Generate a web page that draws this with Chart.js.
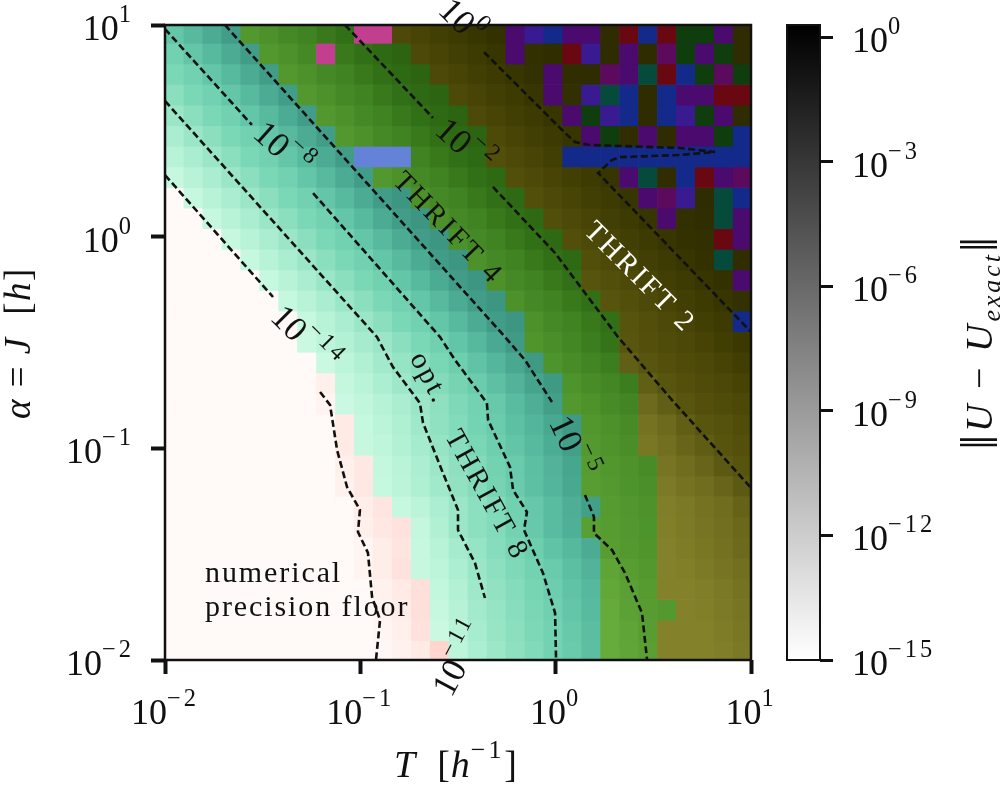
<!DOCTYPE html>
<html>
<head>
<meta charset="utf-8">
<title>THRIFT error</title>
<script src="https://cdn.jsdelivr.net/npm/chart.js@4"></script>
<style>
    html, body { margin: 0; background: #fff; }
    canvas { position: absolute; top: 0; }
</style>
</head>
<body>
<canvas id="mapChart" width="1000" height="787" style="left:0"></canvas>
<canvas id="barChart" width="240" height="787" style="left:760px"></canvas>
<script>
// Axis ticks
const xTickValues = [0.01, 0.1, 1, 10];
const xTickExps = ['−2', '−1', '0', '1'];
const yTickValues = [0.01, 0.1, 1, 10];
const yTickExps = ['−2', '−1', '0', '1'];
const barTickValues = [1, 1e-3, 1e-6, 1e-9, 1e-12, 1e-15];
const barTickExps = ['0', '−3', '−6', '−9', '−12', '−15'];

// Winning method per cell, top row first
// F floor, 8/4/2 THRIFT order, M C stray cells, the rest is the noisy corner
const methodRows = [
    '8888444444MM222222vibvv2rbrggv2',
    '88888444M444422222v22ri2v2mgvg2',
    '88888844444444222222v22mvtrbgmg',
    '888888844444444' + '22222v2itb2bvvrr',
    '88888888444444442222' + '2vgib2bigv2',
    '888888888444444442222' + '2vg2v2vvgb',
    '8888888888CCC44442222bbbbbbbbbb',
    '88888888888444444422222' + '2vt2brvm',
    'F888888888888444444222222vmi2tb',
    'FF888888888888444444222222v22tv',
    'FFF888888888888444444222222' + '22rv',
    'FFFF888888888888444444222222' + '2t2',
    'FFFFF88888888888844444222222' + '22v',
    'FFFFFF88888888888844444222222' + '22',
    'FFFFFFF88888888888844444222222b',
    'FFFFFFF888888888888444442222222',
    'FFFFFFFF8888888888884444222' + '2222',
    'FFFFFFFFF888888888888444422' + '2222',
    'FFFFFFFFF888888888888444422' + '2222',
    'FFFFFFFFFF888888888888444222222',
    'FFFFFFFFFF888888888888444222222',
    'FFFFFFFFFFF88888888888444422222',
    'FFFFFFFFFFF88888888888444422222',
    'FFFFFFFFFFFF88888888888444' + '22222',
    'FFFFFFFFFFFFF888888888444422222',
    'FFFFFFFFFFFFF8888888888444' + '22222',
    'FFFFFFFFFFFFF8888888888444' + '22222',
    'FFFFFFFFFFFFFF888888888444' + '22222',
    'FFFFFFFFFFFFFF8888888884444' + '2222',
    'FFFFFFFFFFFFFF888888888444' + '22222',
    'FFFFFFFFFFFFFFF88888888444' + '22222'
];

// log10 of the error per cell, top row first
const errorRows = [
    [-7.5,-6.6,-5.7,-4.9,-4.5,-4,-3.5,-3.1,-2.6,-2.2,-1.8,-1.5,-1.2,-.9,-.6,-.3,0,.2,.3,.4,.5,.5,.5,.5,.5,.5,.5,.5,.5,.5,.5],
    [-8.4,-7.5,-6.6,-5.7,-4.9,-4.5,-4,-3.5,-3.1,-2.6,-2.2,-1.8,-1.5,-1.2,-.9,-.6,-.3,0,.2,.3,.4,.5,.5,.5,.5,.5,.5,.5,.5,.5,.5],
    [-9.2,-8.4,-7.5,-6.6,-5.7,-4.9,-4.5,-4,-3.5,-3.1,-2.6,-2.2,-1.8,-1.5,-1.2,-.9,-.6,-.3,0,.2,.3,.4,.5,.5,.5,.5,.5,.5,.5,.5,.5],
    [-10.1,-9.2,-8.4,-7.5,-6.6,-5.7,-4.9,-4.5,-4,-3.5,-3.1,-2.6,-2.2,-1.8,-1.5,-1.2,-.9,-.6,-.3,0,.2,.3,.4,.5,.5,.5,.5,.5,.5,.5,.5],
    [-11,-10.1,-9.2,-8.4,-7.5,-6.6,-5.7,-4.9,-4.5,-4,-3.5,-3.1,-2.6,-2.2,-1.8,-1.5,-1.2,-.9,-.6,-.3,0,.2,.3,.4,.5,.5,.5,.5,.5,.5,.5],
    [-11.9,-11,-10.1,-9.2,-8.4,-7.5,-6.6,-5.7,-4.9,-4.5,-4,-3.5,-3.1,-2.6,-2.2,-1.8,-1.5,-1.2,-.9,-.6,-.3,0,.2,.3,.4,.5,.5,.5,.5,.5,.5],
    [-12.7,-11.9,-11,-10.1,-9.2,-8.4,-7.5,-6.6,-5.7,-4.9,-4.5,-4,-3.5,-3.1,-2.6,-2.2,-1.8,-1.5,-1.2,-.9,-.6,-.3,0,.2,.3,.4,.5,.5,.5,.5,.5],
    [-13.5,-12.7,-11.9,-11,-10.1,-9.2,-8.4,-7.5,-6.6,-5.7,-4.9,-4.5,-4,-3.5,-3.1,-2.6,-2.2,-1.8,-1.5,-1.2,-.9,-.6,-.3,0,.2,.3,.4,.5,.5,.5,.5],
    [-15,-13.5,-12.7,-11.9,-11,-10.1,-9.2,-8.4,-7.5,-6.6,-5.7,-4.9,-4.5,-4,-3.5,-3.1,-2.6,-2.2,-1.8,-1.5,-1.2,-.9,-.6,-.3,0,.2,.3,.4,.5,.5,.5],
    [-15,-15,-13.5,-12.7,-11.9,-11,-10.1,-9.2,-8.4,-7.5,-6.6,-5.7,-4.9,-4.5,-4,-3.5,-3.1,-2.6,-2.2,-1.8,-1.5,-1.2,-.9,-.6,-.3,0,.2,.3,.4,.5,.5],
    [-15,-15,-15,-13.5,-12.7,-11.9,-11,-10.1,-9.2,-8.4,-7.5,-6.6,-5.7,-4.9,-4.5,-4,-3.5,-3.1,-2.6,-2.2,-1.8,-1.5,-1.2,-.9,-.6,-.3,0,.2,.3,.4,.5],
    [-15,-15,-15,-15,-13.5,-12.7,-11.9,-11,-10.1,-9.2,-8.4,-7.5,-6.6,-5.7,-4.9,-4.5,-4,-3.5,-3.1,-2.6,-2.2,-1.8,-1.5,-1.2,-.9,-.6,-.3,0,.2,.3,.4],
    [-15,-15,-15,-15,-15,-13.5,-12.7,-11.9,-11,-10.1,-9.2,-8.4,-7.5,-6.6,-5.7,-4.9,-4.5,-4,-3.5,-3.1,-2.6,-2.2,-1.8,-1.5,-1.2,-.9,-.6,-.3,0,.2,.3],
    [-15,-15,-15,-15,-15,-15,-13.5,-12.7,-11.9,-11,-10.1,-9.2,-8.4,-7.5,-6.6,-5.7,-4.9,-4.5,-4,-3.5,-3.1,-2.6,-2.2,-1.8,-1.5,-1.2,-.9,-.6,-.3,0,.2],
    [-15,-15,-15,-15,-15,-15,-15,-13.5,-12.7,-11.9,-11,-10.1,-9.2,-8.4,-7.5,-6.6,-5.7,-4.9,-4.5,-4,-3.5,-3.1,-2.6,-2.2,-1.8,-1.5,-1.2,-.9,-.6,-.3,0],
    [-15,-15,-15,-15,-15,-15,-15,-13.7,-13,-12.4,-11.7,-11,-10.1,-9.2,-8.3,-7.4,-6.5,-5.6,-4.8,-4.3,-3.8,-3.3,-2.8,-2.3,-1.9,-1.6,-1.3,-1.1,-.8,-.5,-.2],
    [-15,-15,-15,-15,-15,-15,-15,-15,-13.7,-13,-12.3,-11.5,-10.7,-9.9,-9.1,-8.2,-7.3,-6.4,-5.5,-4.7,-4.2,-3.7,-3.2,-2.8,-2.3,-1.9,-1.6,-1.3,-1.1,-.8,-.5],
    [-15,-15,-15,-15,-15,-15,-15,-15,-14.5,-13.4,-12.8,-12,-11.2,-10.4,-9.6,-8.8,-7.9,-7.1,-6.2,-5.3,-4.7,-4.2,-3.7,-3.3,-2.8,-2.3,-1.9,-1.6,-1.3,-1.1,-.8],
    [-15,-15,-15,-15,-15,-15,-15,-15,-14.7,-13.8,-13.2,-12.6,-11.9,-11,-10.3,-9.4,-8.5,-7.7,-6.8,-5.9,-5,-4.5,-4.1,-3.6,-3.2,-2.8,-2.3,-1.9,-1.6,-1.3,-1.1],
    [-15,-15,-15,-15,-15,-15,-15,-15,-15,-14.3,-13.5,-12.9,-12.2,-11.3,-10.4,-9.6,-8.7,-7.9,-7.1,-6.3,-5.5,-4.8,-4.4,-4,-3.6,-3.2,-2.8,-2.3,-1.9,-1.7,-1.4],
    [-15,-15,-15,-15,-15,-15,-15,-15,-15,-14.3,-13.6,-13.1,-12.4,-11.6,-10.7,-9.9,-9.1,-8.2,-7.4,-6.6,-5.8,-5,-4.6,-4.2,-3.8,-3.4,-3,-2.6,-2.2,-1.8,-1.6],
    [-15,-15,-15,-15,-15,-15,-15,-15,-15,-14.5,-14.2,-13.4,-12.8,-12,-11.1,-10.3,-9.5,-8.6,-7.8,-7,-6.2,-5.4,-4.8,-4.4,-4.1,-3.7,-3.3,-2.9,-2.6,-2.1,-1.8],
    [-15,-15,-15,-15,-15,-15,-15,-15,-15,-14.6,-14.2,-13.5,-12.9,-12.2,-11.4,-10.5,-9.7,-8.8,-7.9,-7.1,-6.3,-5.5,-4.9,-4.6,-4.2,-3.9,-3.6,-3.2,-2.9,-2.6,-2.1],
    [-15,-15,-15,-15,-15,-15,-15,-15,-15,-15,-14.4,-14.1,-13.5,-12.9,-12,-11,-10.2,-9.5,-8.4,-7.6,-6.8,-5.9,-5,-4.7,-4.4,-4.1,-3.8,-3.5,-3.2,-2.9,-2.5],
    [-15,-15,-15,-15,-15,-15,-15,-15,-15,-15,-14.5,-14.2,-14,-13.4,-12.3,-11,-10.2,-9.6,-8.6,-7.7,-6.8,-6,-5,-4.8,-4.5,-4.2,-3.9,-3.6,-3.3,-3,-2.7],
    [-15,-15,-15,-15,-15,-15,-15,-15,-15,-15,-14.8,-14.4,-14.1,-13.5,-12.7,-11.6,-10.7,-9.8,-9,-8.2,-7.3,-6.5,-5.7,-4.9,-4.6,-4.3,-4,-3.7,-3.4,-3.1,-2.8],
    [-15,-15,-15,-15,-15,-15,-15,-15,-15,-15,-14.7,-14.4,-14,-13.6,-13,-12,-11,-10.2,-9.4,-8.5,-7.8,-7,-6.2,-5.4,-4.9,-4.5,-4.2,-3.9,-3.6,-3.3,-3],
    [-15,-15,-15,-15,-15,-15,-15,-15,-15,-15,-15,-14.6,-14.3,-13.9,-13.3,-12.4,-11.3,-10.5,-9.7,-8.9,-8.1,-7.3,-6.5,-5.7,-5.1,-4.7,-4.4,-4.1,-3.8,-3.5,-3.2],
    [-15,-15,-15,-15,-15,-15,-15,-15,-15,-15,-15,-14.7,-14.4,-13.9,-13.5,-12.6,-11.5,-10.7,-9.9,-9.1,-8.3,-7.5,-6.7,-5.9,-5.2,-4.8,-4.6,-4.2,-3.9,-3.6,-3.3],
    [-15,-15,-15,-15,-15,-15,-15,-15,-15,-15,-15,-14.8,-14.5,-14,-13.7,-12.8,-11.8,-10.9,-10.1,-9.3,-8.5,-7.7,-6.9,-6.1,-5.4,-4.9,-4.5,-4.3,-4,-3.7,-3.4],
    [-15,-15,-15,-15,-15,-15,-15,-15,-15,-15,-15,-14.9,-14.6,-14.3,-13.6,-13,-12,-11.1,-10.3,-9.5,-8.6,-7.8,-7,-6.2,-5.5,-5,-4.6,-4.4,-4.1,-3.8,-3.5]
];

// Contour lines as [log10 T, log10 alpha], one list per unbroken piece
const contourMinus14 = [
    [[-2, .291], [-1.447, -.285]],
    [[-1.206, -.734], [-1.155, -.795], [-1.119, -1.008], [-1.068, -1.183], [-1.002, -1.291], [-1.012, -1.395], [-.961, -1.494], [-.94, -1.702], [-.899, -1.811], [-.92, -2]]
];
const contourMinus11 = [
    [[-2, .641], [-.915, -.474], [-.833, -.616], [-.695, -.786], [-.679, -.88], [-.577, -1.117], [-.556, -1.164], [-.5, -1.291], [-.5, -1.386], [-.413, -1.542], [-.362, -1.707]]
];
const contourMinus8 = [
    [[-2, .981], [-1.555, .528]],
    [[-1.242, .206], [-.592, -.474], [-.515, -.583], [-.352, -.786], [-.346, -.866], [-.234, -1.088], [-.218, -1.197], [-.147, -1.301], [-.162, -1.386], [-.065, -1.589], [-.003, -1.778], [.002, -2]]
];
const contourMinus5 = [
    [[-1.693, 1], [-.259, -.474], [-.157, -.583], [-.019, -.781]],
    [[.15, -1.22], [.196, -1.324], [.196, -1.4], [.288, -1.48], [.355, -1.589], [.442, -1.778], [.468, -2]]
];
const contourMinus2 = [
    [[-1.078, 1], [-.628, .561]],
    [[-.321, .235], [-.003, -.077], [.319, -.474], [.596, -.772], [1, -1.187]]
];
const contourZero = [
    [[-.367, .872], [.048, .49], [.099, .447], [.176, .433], [.637, .419], [.816, .4], [.637, .386], [.329, .376], [.288, .362], [.217, .301], [1, -.45]]
];

// Text on the map: runs, place in [log10 T, log10 alpha], rotation in degrees
const mapLabels = [
    { runs: [{ t: '10' }, { t: '0', sup: true }], at: [-.48, 1.014], rot: 45, color: '#111' },
    { runs: [{ t: '10' }, { t: '−2', sup: true }], at: [-.464, .424], rot: 42, color: '#111' },
    { runs: [{ t: '10' }, { t: '−5', sup: true }], at: [.084, -.998], rot: 65, color: '#111' },
    { runs: [{ t: '10' }, { t: '−8', sup: true }], at: [-1.396, .409], rot: 42, color: '#111' },
    { runs: [{ t: '10' }, { t: '−11', sup: true }], at: [-.485, -1.991], rot: -62, color: '#111' },
    { runs: [{ t: '10' }, { t: '−14', sup: true }], at: [-1.283, -.488], rot: 45, color: '#111' },
    { runs: [{ t: 'THRIFT 4' }], at: [-.551, .041], rot: 46, color: '#111', size: 29 },
    { runs: [{ t: 'THRIFT 2' }], at: [.432, -.191], rot: 45, color: '#fff', size: 29 },
    { runs: [{ t: 'THRIFT 8' }], at: [-.352, -1.22], rot: 61, color: '#111', size: 29 },
    { runs: [{ t: 'opt.' }], at: [-.643, -.668], rot: 62, color: '#111', size: 29 }
];
const noteLines = [
    { text: 'numerical', at: [-1.795, -1.631] },
    { text: 'precision floor', at: [-1.795, -1.792] }
];

// Colour ramps per method, keyed on log10 error
const methodRamps = {
    F: [[-15, '#fff9f7'], [-14.5, '#fff0ec'], [-14, '#ffe2dd'], [-13.5, '#ffd2cb']],
    8: [[-14, '#cff9e4'], [-13, '#bdf5da'], [-11, '#9ae6c7'], [-9, '#78d6b4'], [-8, '#6ccdae'], [-7, '#5cbfa2'], [-6, '#4fb098'], [-5, '#429f88'], [-4.5, '#3d9682']],
    4: [[-6, '#66ac3c'], [-4.5, '#52982e'], [-3, '#3f8222'], [-2, '#2f6c14'], [-1, '#2a5c10']],
    2: [[-4, '#83822a'], [-3, '#726f20'], [-2, '#5a5710'], [-1, '#4a4606'], [0, '#373500'], [.5, '#2e2c00']]
};
const flatColors = {
    M: '#c23f8f', C: '#6482d8', v: '#4a0a6e', m: '#5c0a5e', i: '#3a1a90',
    b: '#142a8a', r: '#6a0812', g: '#0f3d0e', t: '#054a3a'
};
const serif = '"Liberation Serif"';

function hexToRgb(hex) {
    return [1, 3, 5].map(i => parseInt(hex.substr(i, 2), 16));
}

function cellColor(method, value) {
    if (flatColors[method]) return flatColors[method];
    const ramp = methodRamps[method];
    if (value <= ramp[0][0]) return ramp[0][1];
    for (let i = 1; i < ramp.length; i++) {
        if (value <= ramp[i][0]) {
            const f = (value - ramp[i - 1][0]) / (ramp[i][0] - ramp[i - 1][0]);
            const a = hexToRgb(ramp[i - 1][1]);
            const b = hexToRgb(ramp[i][1]);
            return 'rgb(' + a.map((c, k) => Math.round(c + (b[k] - c) * f)).join(',') + ')';
        }
    }
    return ramp[ramp.length - 1][1];
}

// Grid layout in log10 units (cells are not quite 0.1 decade)
const colStep = 0.09696;
const rowStep = 0.09732;
const rowTopEdge = r => (r === 0 ? 1 : 0.9135 - rowStep * (r - 1));

const cellDatasets = errorRows.map((row, r) => ({
    type: 'bar',
    order: 2,
    grouped: false,
    barPercentage: 1,
    categoryPercentage: 1,
    borderWidth: 0,
    data: row.map((v, c) => ({
        x: Math.pow(10, -2 + colStep * (c + 0.5)),
        y: [Math.pow(10, rowTopEdge(r + 1)), Math.pow(10, rowTopEdge(r))]
    })),
    backgroundColor: row.map((v, c) => cellColor(methodRows[r][c], v))
}));

const contourDatasets = [contourMinus14, contourMinus11, contourMinus8, contourMinus5, contourMinus2, contourZero]
    .flat()
    .map(piece => ({
        type: 'line',
        order: 1,
        data: piece.map(p => ({ x: Math.pow(10, p[0]), y: Math.pow(10, p[1]) })),
        borderColor: '#111',
        borderWidth: 2.6,
        borderDash: [7, 3.5],
        pointRadius: 0,
        tension: 0,
        fill: false
    }));

// Draws text with italic / superscript / subscript runs, anchored by align
function drawRuns(ctx, runs, x, y, size, opts) {
    const o = opts || {};
    const sizeFor = r => (r.sup || r.sub ? size * 0.68 : size) * (r.scale || 1);
    const fontFor = r => (r.it ? 'italic ' : '') + sizeFor(r) + 'px ' + serif;
    const spacingFor = r => (r.sup ? 3 : (o.spacing || 0));
    ctx.save();
    ctx.translate(x, y);
    ctx.rotate((o.rot || 0) * Math.PI / 180);
    ctx.fillStyle = o.color || '#111';
    ctx.textBaseline = 'alphabetic';
    ctx.textAlign = 'left';
    let width = 0;
    runs.forEach(r => {
        ctx.font = fontFor(r);
        ctx.letterSpacing = spacingFor(r) + 'px';
        width += ctx.measureText(r.t).width;
    });
    let pen = o.align === 'right' ? -width : (o.align === 'left' ? 0 : -width / 2);
    const lift = o.middle ? size * 0.3 : 0;
    runs.forEach(r => {
        ctx.font = fontFor(r);
        ctx.letterSpacing = spacingFor(r) + 'px';
        const dy = (r.sup ? -size * 0.5 : (r.sub ? size * 0.2 : 0)) + (r.dy || 0);
        ctx.fillText(r.t, pen, dy + lift);
        pen += ctx.measureText(r.t).width;
    });
    ctx.restore();
}

const mapTextPlugin = {
    id: 'mapText',
    afterDraw(chart) {
        const { ctx, chartArea: area, scales } = chart;
        const px = lx => scales.x.getPixelForValue(Math.pow(10, lx));
        const py = ly => scales.y.getPixelForValue(Math.pow(10, ly));

        ctx.save();
        ctx.strokeStyle = '#111';
        ctx.lineWidth = 2.5;
        ctx.strokeRect(area.left, area.top, area.width, area.height);
        ctx.restore();

        xTickValues.forEach((v, i) => {
            drawRuns(ctx, [{ t: '10' }, { t: xTickExps[i], sup: true }], scales.x.getPixelForValue(v), 724, 36);
        });
        yTickValues.forEach((v, i) => {
            drawRuns(ctx, [{ t: '10' }, { t: yTickExps[i], sup: true }], 134, scales.y.getPixelForValue(v) + 15, 36, { align: 'right' });
        });

        mapLabels.forEach(l => {
            drawRuns(ctx, l.runs, px(l.at[0]), py(l.at[1]), l.size || 35, { rot: l.rot, color: l.color, middle: true, spacing: l.size ? 2.6 : 0 });
        });
        noteLines.forEach(l => {
            drawRuns(ctx, [{ t: l.text }], px(l.at[0]), py(l.at[1]), 30, { align: 'left', spacing: 1.9 });
        });

        // Axis titles
        drawRuns(ctx, [{ t: 'T', it: true }, { t: '  [' }, { t: 'h', it: true }, { t: '−1', sup: true }, { t: ']' }], 456, 777, 38, { spacing: 1 });
        drawRuns(ctx, [{ t: 'α', it: true }, { t: ' = ' }, { t: 'J', it: true }, { t: '  [' }, { t: 'h', it: true }, { t: ']' }], 30, 343, 37, { rot: -90, spacing: 1.5 });
        drawRuns(ctx, [{ t: '‖', scale: 1.4, dy: 5 }, { t: 'U', it: true }, { t: ' − ' }, { t: 'U', it: true }, { t: 'exact', it: true, sub: true }, { t: '‖', scale: 1.4, dy: 5 }], 992, 342, 38, { rot: -90, spacing: 3 });
    }
};

new Chart(document.getElementById('mapChart'), {
    type: 'bar',
    data: { datasets: cellDatasets.concat(contourDatasets) },
    plugins: [mapTextPlugin],
    options: {
        responsive: false,
        animation: false,
        layout: { padding: { left: 151, right: 249, top: 25, bottom: 113 } },
        plugins: { legend: { display: false }, tooltip: { enabled: false } },
        scales: {
            x: {
                type: 'logarithmic',
                min: 0.01,
                max: 10,
                offset: false,
                afterBuildTicks: axis => { axis.ticks = xTickValues.map(v => ({ value: v, major: true })); },
                ticks: { display: false },
                border: { display: false },
                grid: { offset: false, drawOnChartArea: false, tickLength: 14, tickWidth: 4, tickColor: '#111' }
            },
            y: {
                type: 'logarithmic',
                min: 0.01,
                max: 10,
                afterBuildTicks: axis => { axis.ticks = yTickValues.map(v => ({ value: v, major: true })); },
                ticks: { display: false },
                border: { display: false },
                grid: { drawOnChartArea: false, tickLength: 14, tickWidth: 4, tickColor: '#111' }
            }
        }
    }
});

// Colour bar, a single floating bar with a gradient
const barPlugin = {
    id: 'barText',
    afterDraw(chart) {
        const { ctx, chartArea: area, scales } = chart;
        ctx.save();
        ctx.strokeStyle = '#111';
        ctx.lineWidth = 2;
        ctx.strokeRect(area.left, area.top, area.width, area.height);
        ctx.restore();
        barTickValues.forEach((v, i) => {
            drawRuns(ctx, [{ t: '10' }, { t: barTickExps[i], sup: true }], 92, scales.y.getPixelForValue(v) + 15, 36, { align: 'left' });
        });
    }
};

const barCanvas = document.getElementById('barChart');
const barFill = barCanvas.getContext('2d').createLinearGradient(0, 25, 0, 660);
barFill.addColorStop(0, '#000');
barFill.addColorStop(1, '#fff');

new Chart(barCanvas, {
    type: 'bar',
    data: {
        labels: ['error'],
        datasets: [{ data: [[1e-15, 1.95]], backgroundColor: barFill, borderWidth: 0, barPercentage: 1, categoryPercentage: 1 }]
    },
    plugins: [barPlugin],
    options: {
        responsive: false,
        animation: false,
        layout: { padding: { left: 27, right: 167, top: 25, bottom: 127 } },
        plugins: { legend: { display: false }, tooltip: { enabled: false } },
        scales: {
            x: { display: false },
            y: {
                type: 'logarithmic',
                position: 'right',
                min: 1e-15,
                max: 1.95,
                afterBuildTicks: axis => { axis.ticks = barTickValues.map(v => ({ value: v, major: true })); },
                ticks: { display: false },
                border: { display: false },
                grid: { drawOnChartArea: false, tickLength: 13, tickWidth: 3, tickColor: '#111' }
            }
        }
    }
});
</script>
</body>
</html>
